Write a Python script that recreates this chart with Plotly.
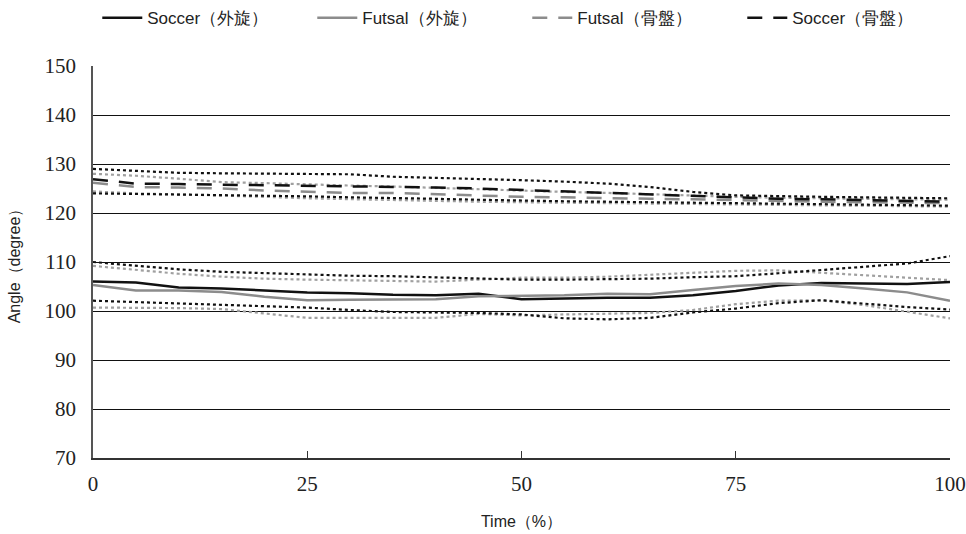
import plotly.graph_objects as go

time_pct = [0, 5, 10, 15, 20, 25, 30, 35, 40, 45, 50, 55, 60, 65, 70, 75, 80, 85, 90, 95, 100]

# External rotation (外旋)
soccer_er_mean = [106.0, 105.8, 104.8, 104.6, 104.2, 103.8, 103.6, 103.3, 103.2, 103.5, 102.4, 102.6, 102.7, 102.7, 103.2, 104.1, 105.2, 105.7, 105.6, 105.5, 105.9]
soccer_er_upper = [110.0, 109.2, 108.5, 108.0, 107.7, 107.4, 107.2, 107.1, 106.9, 106.7, 106.4, 106.4, 106.5, 106.6, 106.9, 107.1, 107.7, 108.4, 109.0, 109.7, 111.2]
soccer_er_lower = [102.1, 101.8, 101.6, 101.3, 101.0, 100.7, 100.2, 99.8, 99.7, 99.6, 99.3, 98.5, 98.3, 98.6, 99.7, 100.5, 101.6, 102.2, 101.5, 100.8, 100.3]
futsal_er_mean = [105.3, 104.2, 104.2, 103.9, 102.9, 102.2, 102.3, 102.4, 102.4, 103.0, 103.1, 103.2, 103.5, 103.4, 104.3, 105.1, 105.6, 105.3, 104.6, 103.8, 102.1]
futsal_er_upper = [109.2, 108.4, 107.6, 107.0, 106.6, 106.4, 106.3, 106.1, 106.0, 106.4, 106.8, 106.8, 107.0, 107.4, 107.8, 108.2, 108.3, 107.8, 107.3, 106.9, 106.3]
futsal_er_lower = [100.7, 100.7, 100.6, 100.4, 99.5, 98.6, 98.6, 98.6, 98.6, 99.4, 99.1, 99.3, 99.5, 99.6, 100.2, 101.4, 102.1, 102.2, 101.2, 99.8, 98.5]

# Pelvis (骨盤)
soccer_pv_mean = [126.9, 126.0, 125.9, 125.8, 125.7, 125.6, 125.5, 125.4, 125.2, 125.0, 124.7, 124.4, 124.0, 123.7, 123.4, 123.1, 122.9, 122.8, 122.6, 122.5, 122.3]
soccer_pv_upper = [129.0, 128.6, 128.2, 128.1, 128.0, 127.9, 127.9, 127.4, 127.2, 126.9, 126.7, 126.4, 126.0, 125.3, 124.3, 123.6, 123.4, 123.3, 123.2, 123.1, 123.0]
soccer_pv_lower = [124.0, 123.9, 123.7, 123.6, 123.5, 123.4, 123.2, 123.1, 122.9, 122.7, 122.5, 122.4, 122.3, 122.2, 122.1, 122.0, 121.9, 121.8, 121.7, 121.6, 121.5]
futsal_pv_mean = [126.2, 125.3, 125.2, 125.0, 124.6, 124.3, 124.1, 124.1, 123.8, 123.5, 123.3, 123.2, 123.0, 122.9, 122.8, 122.6, 122.4, 122.3, 122.2, 122.1, 122.0]
futsal_pv_upper = [128.0, 127.6, 127.0, 126.3, 126.1, 125.8, 125.6, 125.4, 125.1, 124.8, 124.5, 124.3, 124.1, 123.8, 123.5, 123.3, 123.1, 123.0, 122.9, 122.8, 122.7]
futsal_pv_lower = [124.4, 124.0, 123.8, 123.6, 123.3, 123.0, 122.8, 122.7, 122.5, 122.3, 122.2, 122.1, 122.0, 121.9, 121.8, 121.7, 121.6, 121.6, 121.5, 121.4, 121.3]

x_ticks = [0, 25, 50, 75, 100]
y_ticks = [70, 80, 90, 100, 110, 120, 130, 140, 150]

BLACK = "#111111"
GRAY = "#8c8c8c"
DOT_GRAY = "#a0a0a0"
DASH = "15px,11px"

fig = go.Figure()

def band(y, color):
    fig.add_trace(go.Scatter(x=time_pct, y=y, mode="lines", showlegend=False, hoverinfo="skip",
                             line=dict(color=color, width=2.2, dash="dot")))

# SD bands
band(futsal_pv_upper, DOT_GRAY)
band(futsal_pv_lower, DOT_GRAY)
band(futsal_er_upper, DOT_GRAY)
band(futsal_er_lower, DOT_GRAY)
band(soccer_pv_upper, BLACK)
band(soccer_pv_lower, BLACK)
band(soccer_er_upper, BLACK)
band(soccer_er_lower, BLACK)

fig.add_trace(go.Scatter(x=time_pct, y=soccer_er_mean, mode="lines", name="Soccer（外旋）",
                         line=dict(color=BLACK, width=2.5)))
fig.add_trace(go.Scatter(x=time_pct, y=futsal_er_mean, mode="lines", name="Futsal（外旋）",
                         line=dict(color=GRAY, width=2.5)))
fig.add_trace(go.Scatter(x=time_pct, y=futsal_pv_mean, mode="lines", name="Futsal（骨盤）",
                         line=dict(color=GRAY, width=2.5, dash=DASH)))
fig.add_trace(go.Scatter(x=time_pct, y=soccer_pv_mean, mode="lines", name="Soccer（骨盤）",
                         line=dict(color=BLACK, width=2.5, dash=DASH)))

SANS = "Liberation Sans"
SERIF = "Liberation Serif, DejaVu Serif, serif"

fig.update_layout(
    width=966, height=534,
    margin=dict(l=93, r=16, t=66, b=76, autoexpand=False),
    paper_bgcolor="white", plot_bgcolor="white",
    font=dict(family=SANS, size=16, color="#222222"),
    legend=dict(orientation="h", x=0.005, xanchor="left", yref="container", y=0.966, yanchor="middle",
                font=dict(family=SANS, size=17, color="#222222"), itemwidth=40,
                entrywidth=160, entrywidthmode="pixels",
                traceorder="normal", bgcolor="rgba(0,0,0,0)"),
    xaxis=dict(range=[0, 100], tickvals=x_ticks, ticktext=[str(v) for v in x_ticks],
               showgrid=False, zeroline=False, showline=True, linecolor="#333333", linewidth=1.5,
               ticks="inside", ticklen=7, tickcolor="#333333", tickwidth=1.2,
               ticklabelstandoff=6, automargin=False, ticklabeloverflow="allow",
               tickfont=dict(family=SERIF, size=21, color="#222222"),
               title=dict(text="Time（%）", font=dict(family=SANS, size=16, color="#222222"), standoff=21)),
    yaxis=dict(range=[70, 150], tickvals=y_ticks, ticktext=[str(v) for v in y_ticks],
               showgrid=True, gridcolor="#111111", gridwidth=1.2, zeroline=False,
               showline=True, linecolor="#555555", linewidth=1.5, ticks="",
               ticklabelstandoff=11, automargin=False, ticklabeloverflow="allow",
               tickfont=dict(family=SERIF, size=21, color="#222222"),
               title=dict(text="Angle（degree）", font=dict(family=SANS, size=16, color="#222222"), standoff=20)),
)

# remove the page's default 8px body margin so the 966x534 figure fills the window exactly
fig.write_html("out.html", config={"displayModeBar": False},
               post_script="document.body.style.margin='0';document.body.style.overflow='hidden';")
